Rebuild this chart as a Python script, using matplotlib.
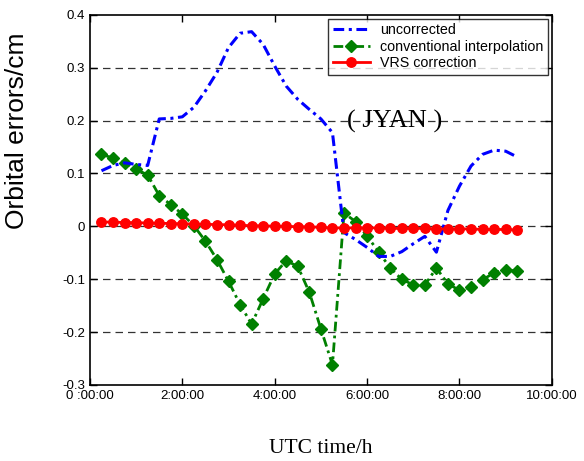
import matplotlib
matplotlib.use("Agg")
import matplotlib.pyplot as plt

# time in hours, 15 min steps
t = [0.25, 0.5, 0.75, 1.0, 1.25, 1.5, 1.75, 2.0, 2.25, 2.5, 2.75, 3.0, 3.25,
     3.5, 3.75, 4.0, 4.25, 4.5, 4.75, 5.0, 5.25, 5.5, 5.75, 6.0, 6.25, 6.5,
     6.75, 7.0, 7.25, 7.5, 7.75, 8.0, 8.25, 8.5, 8.75, 9.0, 9.25]

uncorrected = [0.105, 0.115, 0.120, 0.117, 0.115, 0.203, 0.204, 0.207, 0.225,
               0.256, 0.291, 0.338, 0.365, 0.368, 0.344, 0.303, 0.265, 0.240,
               0.221, 0.203, 0.177, -0.012, -0.025, -0.040, -0.057, -0.057,
               -0.048, -0.033, -0.019, -0.049, 0.030, 0.076, 0.114, 0.136,
               0.144, 0.142, 0.131]

conventional = [0.136, 0.129, 0.119, 0.108, 0.097, 0.058, 0.041, 0.023, 0.001,
                -0.028, -0.063, -0.104, -0.148, -0.185, -0.137, -0.090, -0.065,
                -0.076, -0.125, -0.194, -0.262, 0.025, 0.009, -0.019, -0.048,
                -0.079, -0.100, -0.111, -0.111, -0.079, -0.109, -0.121, -0.115,
                -0.101, -0.088, -0.082, -0.085]

vrs = [0.008, 0.008, 0.007, 0.007, 0.006, 0.006, 0.005, 0.005, 0.004, 0.004,
       0.003, 0.003, 0.002, 0.001, 0.001, 0.000, 0.000, -0.001, -0.001, -0.002,
       -0.003, -0.003, -0.003, -0.003, -0.003, -0.004, -0.004, -0.004, -0.004,
       -0.005, -0.005, -0.005, -0.005, -0.006, -0.006, -0.006, -0.007]

xticks = [0, 2, 4, 6, 8, 10]
xticklabels = ["0 :00:00", "2:00:00", "4:00:00", "6:00:00", "8:00:00", "10:00:00"]
yticks = [-0.3, -0.2, -0.1, 0, 0.1, 0.2, 0.3, 0.4]
yticklabels = ["-0.3", "-0.2", "-0.1", "0", "0.1", "0.2", "0.3", "0.4"]

plt.rcParams["font.family"] = ["Liberation Sans", "DejaVu Sans"]

fig = plt.figure(figsize=(5.84, 4.61), dpi=100)
ax = fig.add_axes([0.154, 0.165, 0.791, 0.803])

for y in [-0.2, -0.1, 0, 0.1, 0.2, 0.3]:
    ax.axhline(y, color="#333333", lw=0.9, ls=(0, (6, 4)), zorder=0)

ax.plot(t, uncorrected, color="blue", lw=2.2, ls=(0, (3.5, 1.5, 1, 1.5)),
        label="uncorrected", zorder=3)
ax.plot(t, conventional, color="green", lw=2, ls=(0, (3.5, 1.5, 1, 1.5)),
        marker="D", ms=6, label="conventional interpolation", zorder=2)
ax.plot(t, vrs, color="red", lw=2, marker="o", ms=6.8,
        label="VRS correction", zorder=4)

ax.text(6.6, 0.199, "( JYAN )", family="Liberation Serif", fontsize=19,
        ha="center", va="center")

ax.set_xlim(0, 10)
ax.set_ylim(-0.3, 0.4)
ax.set_xticks(xticks)
ax.set_xticklabels(xticklabels)
ax.set_yticks(yticks)
ax.set_yticklabels(yticklabels)
ax.tick_params(direction="in", top=True, right=True, length=5, labelsize=9.5,
               width=1)
for s in ax.spines.values():
    s.set_linewidth(1.2)

ax.set_ylabel("Orbital errors/cm", fontsize=19)
ax.yaxis.set_label_coords(-0.132, 0.686)
ax.set_xlabel("UTC time/h", family="Liberation Serif", fontsize=15.5,
              labelpad=27)

leg = ax.legend(loc="upper right", fontsize=10.3, frameon=True, fancybox=False,
                borderaxespad=0.3, handlelength=2.6, labelspacing=0.18,
                borderpad=0.3, handletextpad=0.7)
leg.get_frame().set_edgecolor("black")
leg.get_frame().set_linewidth(1)

fig.savefig("out.png", dpi=100)
